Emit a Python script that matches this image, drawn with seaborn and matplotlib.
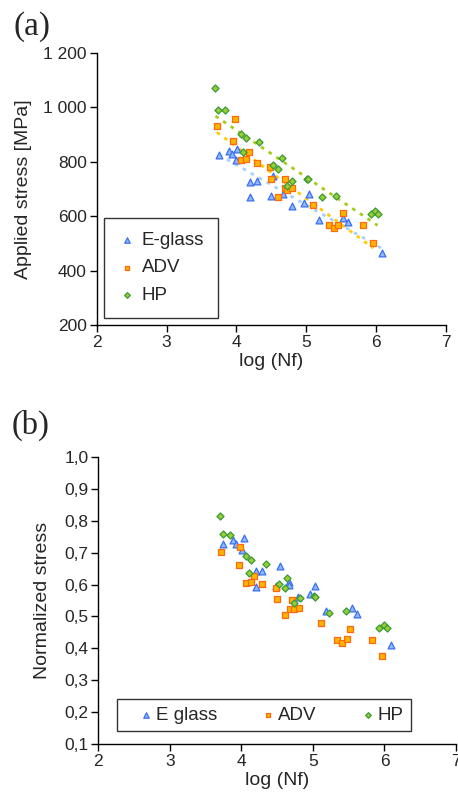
import numpy as np
import pandas as pd
import matplotlib
matplotlib.use('Agg')
import matplotlib.pyplot as plt
import seaborn as sns

# --- data ---
# (a) applied stress [MPa] vs log(Nf)
eglass_logn_a = [3.75, 3.89, 3.93, 4.01, 3.99, 4.19, 4.29, 4.19, 4.53, 4.49, 4.66, 4.79, 4.97, 5.04, 5.18, 5.53, 5.60, 6.09]
eglass_stress_a = [824, 839, 829, 848, 808, 725, 728, 670, 747, 673, 680, 637, 650, 681, 585, 594, 578, 465]

adv_logn_a = [3.72, 3.98, 3.95, 4.18, 4.07, 4.14, 4.29, 4.48, 4.50, 4.70, 4.69, 4.72, 4.80, 4.60, 5.10, 5.32, 5.39, 5.45, 5.52, 5.81, 5.96]
adv_stress_a = [930, 956, 875, 836, 805, 810, 796, 781, 735, 735, 702, 698, 702, 670, 640, 566, 555, 568, 612, 566, 502]

hp_logn_a = [3.70, 3.74, 3.84, 4.06, 4.14, 4.33, 4.09, 4.65, 4.53, 4.60, 5.01, 5.03, 4.80, 4.72, 5.22, 5.43, 5.92, 5.99, 6.02]
hp_stress_a = [1070, 991, 991, 903, 887, 873, 836, 814, 787, 772, 738, 735, 728, 711, 670, 676, 607, 619, 607]

# (b) normalized stress vs log(Nf)
eglass_logn_b = [3.75, 3.89, 3.92, 4.03, 4.01, 4.20, 4.29, 4.20, 4.54, 4.49, 4.67, 4.66, 4.79, 4.96, 5.03, 5.18, 5.54, 5.61, 6.09]
eglass_norm_b = [0.726, 0.739, 0.727, 0.745, 0.708, 0.641, 0.641, 0.591, 0.657, 0.594, 0.607, 0.598, 0.560, 0.571, 0.596, 0.516, 0.525, 0.508, 0.412]

adv_logn_b = [3.72, 3.98, 3.97, 4.17, 4.06, 4.13, 4.29, 4.48, 4.50, 4.71, 4.68, 4.74, 4.80, 4.61, 5.11, 5.33, 5.40, 5.47, 5.52, 5.82, 5.96]
adv_norm_b = [0.701, 0.718, 0.660, 0.628, 0.606, 0.609, 0.603, 0.590, 0.555, 0.552, 0.524, 0.524, 0.527, 0.505, 0.480, 0.427, 0.418, 0.430, 0.461, 0.427, 0.375]

hp_logn_b = [3.70, 3.75, 3.84, 4.07, 4.14, 4.35, 4.10, 4.64, 4.53, 4.61, 4.73, 4.82, 5.02, 5.03, 5.23, 5.46, 5.93, 6.00, 6.03]
hp_norm_b = [0.815, 0.758, 0.756, 0.689, 0.677, 0.664, 0.637, 0.620, 0.602, 0.589, 0.542, 0.558, 0.564, 0.560, 0.511, 0.517, 0.464, 0.474, 0.464]

xticks = [2, 3, 4, 5, 6, 7]
yticks_a = [200, 400, 600, 800, 1000, 1200]
yticklabels_a = ['200', '400', '600', '800', '1 000', '1 200']
yticks_b = [0.1, 0.2, 0.3, 0.4, 0.5, 0.6, 0.7, 0.8, 0.9, 1.0]
yticklabels_b = ['0,1', '0,2', '0,3', '0,4', '0,5', '0,6', '0,7', '0,8', '0,9', '1,0']

# marker styles: (marker, size, face, edge, trend colour)
styles = {
    'E-glass': ('^', 24, '#8fb8ff', '#3b6ff0', '#a8d0ff'),
    'ADV': ('s', 20, '#ffb400', '#ff6a10', '#ffcc00'),
    'HP': ('D', 13, '#9acd32', '#3a9a3a', '#a6cc1a'),
}

sns.set_style('ticks')
plt.rcParams['font.family'] = ['Liberation Sans', 'DejaVu Sans']


def style_axes(ax, yticks, ylabels, ylim):
    ax.set_xlim(2, 7)
    ax.set_ylim(*ylim)
    ax.set_xticks(xticks)
    ax.set_xticklabels([str(t) for t in xticks])
    ax.set_yticks(yticks)
    ax.set_yticklabels(ylabels)
    ax.tick_params(axis='both', labelsize=12.5, length=5, width=1, color='black', pad=2)
    for side in ['left', 'bottom']:
        ax.spines[side].set_linewidth(1)
        ax.spines[side].set_color('black')
    sns.despine(ax=ax)


fig = plt.figure(figsize=(4.58, 7.96), dpi=100)
ax1 = fig.add_axes([0.2111, 0.5917, 0.7627, 0.3417])
ax2 = fig.add_axes([0.2146, 0.0653, 0.7810, 0.3606])

# ---- panel (a) ----
series_a = [
    ('E-glass', eglass_logn_a, eglass_stress_a),
    ('ADV', adv_logn_a, adv_stress_a),
    ('HP', hp_logn_a, hp_stress_a),
]
for name, xs, ys in series_a:
    trend = styles[name][4]
    df = pd.DataFrame({'logn': xs, 'stress': ys})
    sns.regplot(data=df, x='logn', y='stress', ax=ax1, scatter=False, ci=None,
                truncate=True,
                line_kws=dict(color=trend, lw=2.0, dashes=(1.3, 2.0), zorder=1))
for name, xs, ys in series_a:
    mk, size, face, edge, trend = styles[name]
    df = pd.DataFrame({'logn': xs, 'stress': ys})
    sns.scatterplot(data=df, x='logn', y='stress', ax=ax1, marker=mk, s=size,
                    color=face, edgecolor=edge, linewidth=0.9, label=name, zorder=3)

style_axes(ax1, yticks_a, yticklabels_a, (200, 1200))
ax1.set_xlabel('log (Nf)', fontsize=14, labelpad=2)
ax1.set_ylabel('Applied stress [MPa]', fontsize=14, labelpad=8)
leg1 = ax1.legend(loc='lower left', bbox_to_anchor=(0.021, 0.026), borderaxespad=0,
                  fontsize=13.5, frameon=True, fancybox=False, edgecolor='black',
                  markerscale=0.8, labelspacing=0.55, borderpad=0.75,
                  handletextpad=0.25, handlelength=1.0)
leg1.get_frame().set_linewidth(1)

# ---- panel (b) ----
series_b = [
    ('E glass', 'E-glass', eglass_logn_b, eglass_norm_b),
    ('ADV', 'ADV', adv_logn_b, adv_norm_b),
    ('HP', 'HP', hp_logn_b, hp_norm_b),
]
for label, key, xs, ys in series_b:
    mk, size, face, edge, trend = styles[key]
    df = pd.DataFrame({'logn': xs, 'norm': ys})
    sns.scatterplot(data=df, x='logn', y='norm', ax=ax2, marker=mk, s=size,
                    color=face, edgecolor=edge, linewidth=0.9, label=label, zorder=3)

style_axes(ax2, yticks_b, yticklabels_b, (0.1, 1.0))
ax2.set_xlabel('log (Nf)', fontsize=14, labelpad=2)
ax2.set_ylabel('Normalized stress', fontsize=14, labelpad=10)
leg2 = ax2.legend(loc='lower left', bbox_to_anchor=(0.052, 0.045), borderaxespad=0,
                  ncol=3, fontsize=13.5, frameon=True, fancybox=False, edgecolor='black',
                  markerscale=0.8, borderpad=0.4, handletextpad=-0.6,
                  handlelength=2.26, columnspacing=1.6)
leg2.get_frame().set_linewidth(1)

# panel letters
fig.text(0.03, 0.966, '(a)', fontsize=24, family=['Liberation Serif', 'DejaVu Serif'], va='center')
fig.text(0.026, 0.466, '(b)', fontsize=23.5, family=['Liberation Serif', 'DejaVu Serif'], va='center')

fig.savefig('out.png', dpi=100)
